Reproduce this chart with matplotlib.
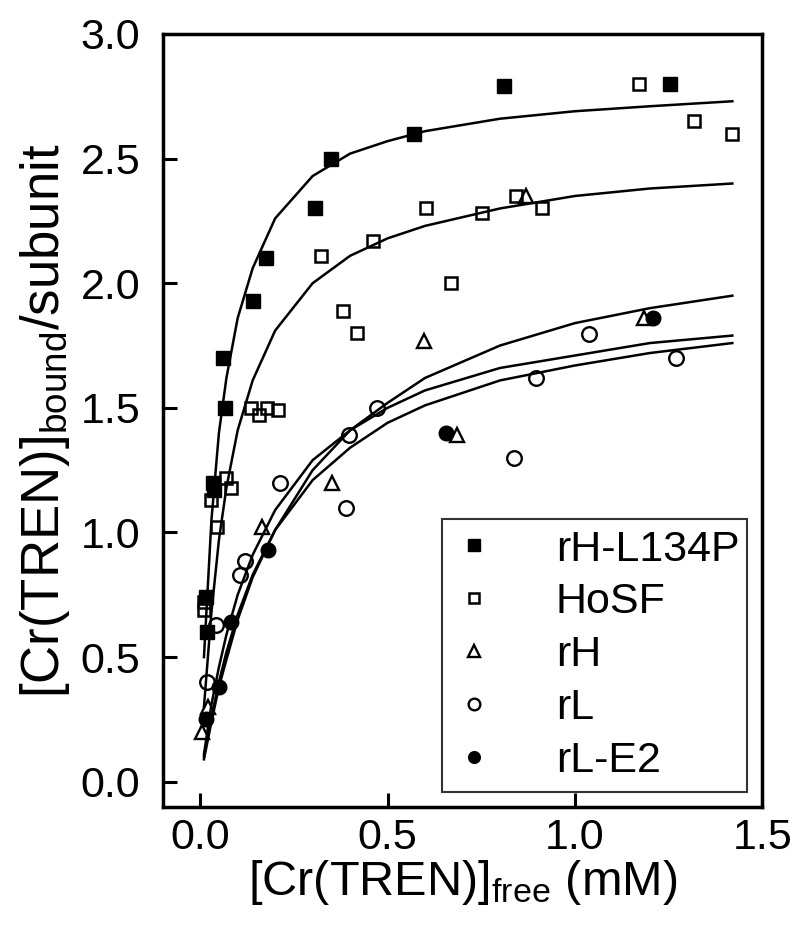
import matplotlib
matplotlib.use("Agg")
import matplotlib.pyplot as plt

plt.rcParams['font.family'] = ['Liberation Sans', 'DejaVu Sans']
plt.rcParams['mathtext.fontset'] = 'custom'
plt.rcParams['mathtext.rm'] = 'Liberation Sans'
plt.rcParams['mathtext.default'] = 'regular'

# data points
rhl_x = [0.015, 0.017, 0.035, 0.037, 0.060, 0.067, 0.141, 0.176, 0.306, 0.350, 0.570, 0.810, 1.253]
rhl_y = [0.74, 0.60, 1.20, 1.17, 1.70, 1.50, 1.93, 2.10, 2.30, 2.50, 2.60, 2.79, 2.80]

hosf_x = [0.009, 0.011, 0.030, 0.045, 0.068, 0.082, 0.135, 0.157, 0.178, 0.208, 0.322,
          0.380, 0.418, 0.462, 0.602, 0.670, 0.753, 0.844, 0.911, 1.171, 1.317, 1.420]
hosf_y = [0.69, 0.72, 1.13, 1.02, 1.22, 1.18, 1.50, 1.47, 1.50, 1.49, 2.11,
          1.89, 1.80, 2.17, 2.30, 2.00, 2.28, 2.35, 2.30, 2.80, 2.65, 2.60]

rh_x = [0.006, 0.020, 0.166, 0.351, 0.597, 0.686, 0.870, 1.185]
rh_y = [0.20, 0.30, 1.02, 1.20, 1.77, 1.39, 2.35, 1.86]

rl_x = [0.018, 0.042, 0.106, 0.120, 0.212, 0.388, 0.397, 0.471, 0.838, 0.897, 1.037, 1.270]
rl_y = [0.40, 0.63, 0.83, 0.885, 1.20, 1.10, 1.39, 1.50, 1.30, 1.62, 1.795, 1.70]

rle2_x = [0.015, 0.051, 0.082, 0.181, 0.657, 1.208]
rle2_y = [0.25, 0.38, 0.64, 0.93, 1.40, 1.86]

# fitted curves, vertices
fit_x = [0.01, 0.03, 0.05, 0.07, 0.1, 0.14, 0.2, 0.3, 0.4, 0.5, 0.6, 0.8, 1.0, 1.2, 1.42]
fit_rhl = [0.50, 1.05, 1.40, 1.62, 1.86, 2.06, 2.26, 2.43, 2.52, 2.57, 2.61, 2.66, 2.69, 2.71, 2.73]
fit_hosf = [0.30, 0.68, 0.97, 1.18, 1.41, 1.61, 1.81, 2.00, 2.11, 2.18, 2.23, 2.30, 2.35, 2.38, 2.40]
fit_rh = [0.09, 0.24, 0.38, 0.49, 0.65, 0.82, 1.01, 1.25, 1.41, 1.52, 1.62, 1.75, 1.84, 1.90, 1.95]
fit_rl = [0.11, 0.31, 0.46, 0.59, 0.75, 0.91, 1.09, 1.29, 1.41, 1.50, 1.57, 1.66, 1.71, 1.76, 1.79]
fit_rle2 = [0.10, 0.26, 0.40, 0.52, 0.67, 0.83, 1.01, 1.21, 1.34, 1.44, 1.51, 1.61, 1.67, 1.72, 1.76]

labels = ['rH-L134P', 'HoSF', 'rH', 'rL', 'rL-E2']

fig = plt.figure(figsize=(8, 9.33), dpi=100)
ax = fig.add_axes([0.2034, 0.1354, 0.7495, 0.8282])

for fy in [fit_rhl, fit_hosf, fit_rh, fit_rl, fit_rle2]:
    ax.plot(fit_x, fy, '-', color='black', lw=1.8, zorder=2)

ax.plot(rhl_x, rhl_y, 's', color='black', ms=10, ls='none', label=labels[0], zorder=3)
ax.plot(hosf_x, hosf_y, 's', mfc='none', mec='black', mew=1.8, ms=9, ls='none', label=labels[1], zorder=3)
ax.plot(rh_x, rh_y, '^', mfc='none', mec='black', mew=1.7, ms=10, ls='none', label=labels[2], zorder=3)
ax.plot(rl_x, rl_y, 'o', mfc='none', mec='black', mew=1.7, ms=10.5, ls='none', label=labels[3], zorder=3)
ax.plot(rle2_x, rle2_y, 'o', color='black', ms=10.5, ls='none', label=labels[4], zorder=3)

ax.set_xlim(-0.1, 1.5)
ax.set_ylim(-0.1, 3.0)
ax.set_xticks([0.0, 0.5, 1.0, 1.5])
ax.set_yticks([0.0, 0.5, 1.0, 1.5, 2.0, 2.5, 3.0])
ax.set_xticklabels(['0.0', '0.5', '1.0', '1.5'])
ax.set_yticklabels(['0.0', '0.5', '1.0', '1.5', '2.0', '2.5', '3.0'])
ax.tick_params(direction='in', length=10, width=2.2, labelsize=31)
ax.tick_params(axis='x', pad=8)
ax.tick_params(axis='y', pad=16)
ax.tick_params(top=False, right=False)
for s in ax.spines.values():
    s.set_linewidth(2.5)

ax.set_xlabel(r'[Cr(TREN)]$_{free}$ (mM)', fontsize=35, labelpad=0)
ax.set_ylabel(r'[Cr(TREN)]$_{bound}$/subunit', fontsize=38, labelpad=6)

leg = ax.legend(loc='lower left', bbox_to_anchor=(0.465, 0.019, 0.51, 0.355), mode='expand',
                fontsize=31, frameon=True, fancybox=False, handlelength=1.0,
                handletextpad=1.4, borderpad=0.25, labelspacing=0.3, markerscale=0.8,
                borderaxespad=0)
leg.get_frame().set_edgecolor('black')
leg.get_frame().set_linewidth(1.5)

fig.savefig('out.png', dpi=100)
